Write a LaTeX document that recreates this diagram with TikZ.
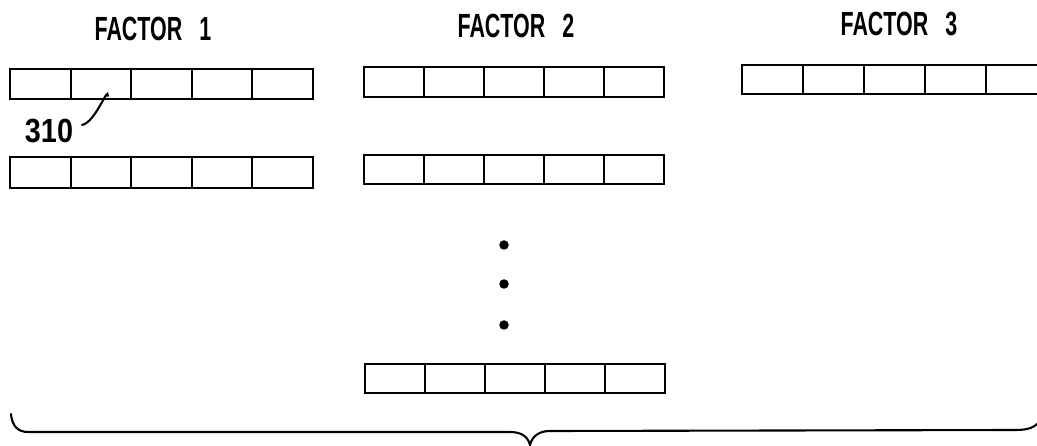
\documentclass[tikz,border=0pt]{standalone}
\usepackage{fontspec}
\usepackage{graphicx}
\setmainfont{Liberation Sans}
\begin{document}
\begin{tikzpicture}[x=1pt,y=-1pt,
  cell/.style={draw=black,line width=2.1pt,minimum height=30pt,inner sep=0pt,outer sep=0pt},
  lbl/.style={anchor=base,inner sep=0pt,font=\fontsize{33.5}{33.5}\selectfont\bfseries},
  dotn/.style={circle,fill=black,minimum size=9.5pt,inner sep=0pt},
  line/.style={line width=2.1pt,line cap=round}]
\useasboundingbox (0,0) rectangle (1037,446);
\clip (0,0) rectangle (1037,446);
% Factor 1 rows
\foreach \i in {1,...,5} {
  \node[cell,minimum width=60.6pt] (a\i) at ({10+(\i-0.5)*60.6},84) {};
  \node[cell,minimum width=60.6pt,minimum height=31pt] (b\i) at ({10+(\i-0.5)*60.6},172.5) {};
}
% Factor 2 rows
\foreach \i in {1,...,5} {
  \node[cell,minimum width=60pt] (c\i) at ({364+(\i-0.5)*60},82) {};
  \node[cell,minimum width=60pt,minimum height=29pt] (d\i) at ({364+(\i-0.5)*60},169.5) {};
  \node[cell,minimum width=60pt,minimum height=29pt] (e\i) at ({365+(\i-0.5)*60},378.5) {};
}
% Factor 3 row
\foreach \i in {1,...,5} {
  \node[cell,minimum width=61pt,minimum height=29pt] (f\i) at ({742+(\i-0.5)*61},79.5) {};
}
% titles
\node[lbl] (t1) at (153,41) {\scalebox{0.64}[1]{FACTOR\hspace{0.8em}1}};
\node[lbl] (t2) at (516,38) {\scalebox{0.64}[1]{FACTOR\hspace{0.8em}2}};
\node[lbl] (t3) at (899,36) {\scalebox{0.64}[1]{FACTOR\hspace{0.8em}3}};
% reference numeral
\node[lbl] (n310) at (49,143) {\scalebox{0.86}[1]{310}};
\coordinate (lstart) at (82,125);
\draw[line] (lstart) .. controls (96,122) and ([xshift=7pt,yshift=14pt]a2.south) .. ([xshift=7pt,yshift=3pt]a2.south);
% dots
\node[dotn] (p1) at (504,245) {};
\node[dotn] (p2) at (504,284) {};
\node[dotn] (p3) at (504,325) {};
% brace
\draw[line] (11,414) .. controls (12,426) and (18,432) .. (28,432)
  -- (510,432) .. controls (522,432) and (528,437) .. (530,445)
  .. controls (532,437) and (538,431) .. (550,431)
  -- (1015,430) .. controls (1028,430) and (1034,428) .. (1040,421);
\end{tikzpicture}
\end{document}
